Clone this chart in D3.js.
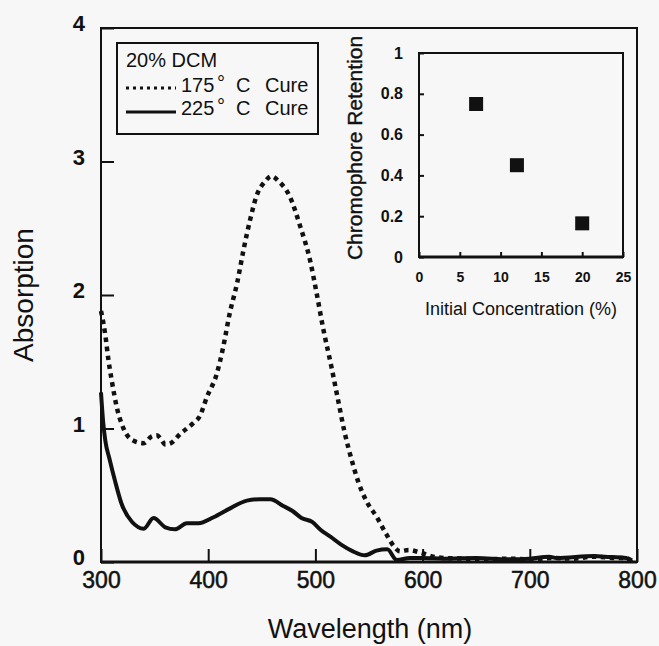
<!DOCTYPE html>
<html>
<head>
<meta charset="utf-8">
<script src="https://cdn.jsdelivr.net/npm/d3@7"></script>
<style>
  body { margin: 0; background: #f7f7f7; }
  text { font-family: "Liberation Sans", Arial, sans-serif; fill: #111; }
</style>
</head>
<body>
<div id="chart"></div>
<script>
// 175 C cure (dotted)
var wl175 = [300, 302, 304, 307, 310, 315, 321, 330, 340, 347, 352, 356, 360, 365, 374, 386, 392, 399, 408, 414, 420, 427, 433, 439, 445, 453, 459, 466, 476, 486, 495, 501, 507, 515, 521, 527, 534, 540, 548, 557, 566, 574, 579, 587, 598, 610, 620, 640, 660, 680, 700, 720, 740, 760, 780, 790, 795];
var abs175 = [1.88, 1.80, 1.70, 1.51, 1.36, 1.15, 1.00, 0.91, 0.89, 0.94, 0.95, 0.92, 0.88, 0.89, 0.96, 1.04, 1.09, 1.24, 1.41, 1.61, 1.86, 2.09, 2.34, 2.56, 2.74, 2.85, 2.89, 2.85, 2.74, 2.51, 2.26, 2.02, 1.76, 1.46, 1.22, 0.98, 0.76, 0.60, 0.45, 0.34, 0.21, 0.11, 0.08, 0.09, 0.07, 0.04, 0.03, 0.025, 0.02, 0.025, 0.02, 0.03, 0.025, 0.04, 0.03, 0.03, 0.01];

// 225 C cure (solid)
var wl225 = [300, 302, 304, 308, 313, 319, 329, 340, 349, 360, 369, 380, 391, 405, 420, 436, 448, 458, 470, 479, 487, 497, 505, 514, 524, 535, 546, 557, 567, 576, 588, 600, 620, 650, 680, 700, 718, 725, 760, 770, 790, 795];
var abs225 = [1.27, 1.05, 0.91, 0.77, 0.61, 0.44, 0.30, 0.25, 0.33, 0.26, 0.245, 0.29, 0.29, 0.335, 0.40, 0.46, 0.47, 0.47, 0.42, 0.38, 0.33, 0.30, 0.24, 0.19, 0.13, 0.08, 0.05, 0.085, 0.095, 0.015, 0.03, 0.03, 0.025, 0.03, 0.02, 0.025, 0.04, 0.03, 0.045, 0.04, 0.03, 0.0];

var xTicks = [300, 400, 500, 600, 700, 800];
var yTicks = [0, 1, 2, 3, 4];

// inset
var concentration = [7, 12, 20];
var retention = [0.75, 0.45, 0.165];
var insetXTicks = [0, 5, 10, 15, 20, 25];
var insetYTicks = [0, 0.2, 0.4, 0.6, 0.8, 1];

var W = 659, H = 646;
var margin = {top: 28, right: 22, bottom: 84, left: 101},
    width = W - margin.left - margin.right,
    height = H - margin.top - margin.bottom;

var svg = d3.select("#chart").append("svg")
    .attr("width", W)
    .attr("height", H);

var g = svg.append("g")
    .attr("transform", "translate(" + margin.left + "," + margin.top + ")");

var x = d3.scaleLinear().domain([300, 800]).range([0, width]);
var y = d3.scaleLinear().domain([0, 4]).range([height, 0]);

// x axis, ticks inward
var xa = g.append("g")
    .attr("transform", "translate(0," + height + ")")
    .call(d3.axisBottom(x).tickValues(xTicks).tickSize(-13).tickPadding(10).tickFormat(d3.format("d")));
xa.select(".domain").remove();
xa.selectAll("line").attr("stroke", "#111").attr("stroke-width", 2);
xa.selectAll("text").attr("font-size", 23).attr("fill", "#111")
    .attr("stroke", "#111").attr("stroke-width", 0.5);

var ya = g.append("g")
    .call(d3.axisLeft(y).tickValues(yTicks).tickSize(-13).tickPadding(16).tickFormat(d3.format("d")));
ya.select(".domain").remove();
ya.selectAll("line").attr("stroke", "#111").attr("stroke-width", 2);
ya.selectAll("text").attr("font-size", 22).attr("font-weight", "bold").attr("dy", "0.12em").attr("fill", "#111");

// frame
g.append("rect")
    .attr("width", width).attr("height", height)
    .attr("fill", "none").attr("stroke", "#111").attr("stroke-width", 2);
g.append("line")
    .attr("x1", 0).attr("x2", width).attr("y1", height).attr("y2", height)
    .attr("stroke", "#111").attr("stroke-width", 3);

var line = d3.line()
    .x(function(d) { return x(d[0]); })
    .y(function(d) { return y(d[1]); })
    .curve(d3.curveMonotoneX);

g.append("path")
    .datum(d3.zip(wl225, abs225))
    .attr("d", line)
    .attr("fill", "none").attr("stroke", "#111").attr("stroke-width", 4);

g.append("path")
    .datum(d3.zip(wl175, abs175))
    .attr("d", line)
    .attr("fill", "none").attr("stroke", "#111").attr("stroke-width", 4.5)
    .attr("stroke-dasharray", "4.5,4.5");

// axis titles
svg.append("text")
    .attr("x", 370).attr("y", 638)
    .attr("text-anchor", "middle").attr("font-size", 27)
    .text("Wavelength (nm)");
svg.append("text")
    .attr("transform", "translate(33,295) rotate(-90)")
    .attr("text-anchor", "middle").attr("font-size", 28)
    .text("Absorption");

// legend
var lg = svg.append("g");
lg.append("rect")
    .attr("x", 117).attr("y", 43).attr("width", 201).attr("height", 91)
    .attr("fill", "none").attr("stroke", "#111").attr("stroke-width", 2);
lg.append("text").attr("x", 126).attr("y", 67).attr("font-size", 20).text("20% DCM");
lg.append("line").attr("x1", 126).attr("x2", 176).attr("y1", 88).attr("y2", 88)
    .attr("stroke", "#111").attr("stroke-width", 3).attr("stroke-dasharray", "3,4");
lg.append("line").attr("x1", 126).attr("x2", 176).attr("y1", 112).attr("y2", 112)
    .attr("stroke", "#111").attr("stroke-width", 3);
[["175", 92], ["225", 115]].forEach(function(r) {
  lg.append("text").attr("x", 181).attr("y", r[1]).attr("font-size", 20).text(r[0]);
  lg.append("text").attr("x", 217).attr("y", r[1] - 2).attr("font-size", 20).text("°");
  lg.append("text").attr("x", 236).attr("y", r[1]).attr("font-size", 20).text("C");
  lg.append("text").attr("x", 265).attr("y", r[1]).attr("font-size", 20).text("Cure");
});

// inset
var ig = svg.append("g").attr("transform", "translate(419,53)");
var iw = 204, ih = 204;
var xs = d3.scaleLinear().domain([0, 25]).range([0, iw]);
var ys = d3.scaleLinear().domain([0, 1]).range([ih, 0]);

var ixa = ig.append("g")
    .attr("transform", "translate(0," + ih + ")")
    .call(d3.axisBottom(xs).tickValues(insetXTicks).tickSize(-5).tickPadding(15));
ixa.select(".domain").remove();
ixa.selectAll("line").attr("stroke", "#111").attr("stroke-width", 2);
ixa.selectAll("text").attr("font-size", 14).attr("font-weight", "bold").attr("fill", "#111");

var iya = ig.append("g")
    .call(d3.axisLeft(ys).tickValues(insetYTicks).tickSize(-5).tickPadding(16).tickFormat(function(d) { return String(d); }));
iya.select(".domain").remove();
iya.selectAll("line").attr("stroke", "#111").attr("stroke-width", 2);
iya.selectAll("text").attr("font-size", 16).attr("font-weight", "bold").attr("fill", "#111");

ig.append("rect")
    .attr("width", iw).attr("height", ih)
    .attr("fill", "none").attr("stroke", "#111").attr("stroke-width", 2);
ig.append("line")
    .attr("x1", 0).attr("x2", iw).attr("y1", ih).attr("y2", ih)
    .attr("stroke", "#111").attr("stroke-width", 3);

ig.selectAll("rect.pt")
    .data(d3.zip(concentration, retention))
    .enter().append("rect")
    .attr("class", "pt")
    .attr("x", function(d) { return xs(d[0]) - 7; })
    .attr("y", function(d) { return ys(d[1]) - 7; })
    .attr("width", 14).attr("height", 14)
    .attr("fill", "#111");

svg.append("text")
    .attr("x", 521).attr("y", 315)
    .attr("text-anchor", "middle").attr("font-size", 18)
    .text("Initial Concentration (%)");
svg.append("text")
    .attr("transform", "translate(362,148) rotate(-90)")
    .attr("text-anchor", "middle").attr("font-size", 21)
    .attr("stroke", "#111").attr("stroke-width", 0.4)
    .text("Chromophore Retention");
</script>
</body>
</html>
